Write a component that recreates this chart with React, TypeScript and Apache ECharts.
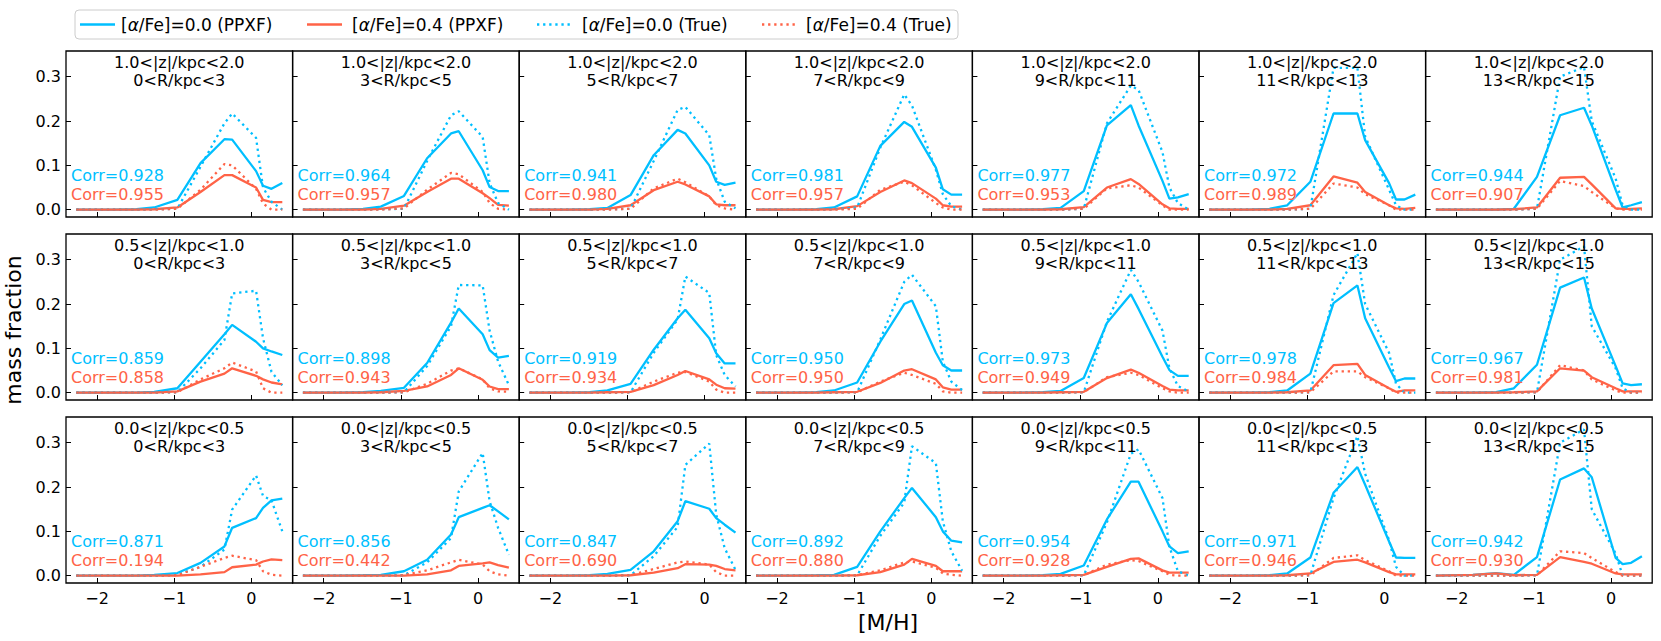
import React, { useEffect, useRef } from 'react';
import * as echarts from 'echarts';

// ---------- data ----------
const MH = [-2.27, -1.79, -1.49, -1.26, -0.96, -0.66, -0.35, -0.25, 0.06, 0.15, 0.26, 0.4];
const Z_BINS = ['1.0<|z|/kpc<2.0', '0.5<|z|/kpc<1.0', '0.0<|z|/kpc<0.5'];
const R_BINS = ['0<R/kpc<3', '3<R/kpc<5', '5<R/kpc<7', '7<R/kpc<9', '9<R/kpc<11', '11<R/kpc<13', '13<R/kpc<15'];
const X_TICKS = [-2, -1, 0];
const Y_TICKS = [0, 0.1, 0.2, 0.3];
const X_RANGE = [-2.4035, 0.5335];
const Y_RANGE = [-0.0165, 0.358];
const LEGEND = ['[α/Fe]=0.0 (PPXF)', '[α/Fe]=0.4 (PPXF)', '[α/Fe]=0.0 (True)', '[α/Fe]=0.4 (True)'];

// row 1: 1.0<|z|<2.0
const PPXF_A0_ROW1 = [
  [0, 0, 0.001, 0.005, 0.022, 0.105, 0.159, 0.158, 0.087, 0.054, 0.047, 0.06],
  [0, 0, 0.002, 0.007, 0.031, 0.116, 0.172, 0.177, 0.089, 0.051, 0.042, 0.042],
  [0, 0, 0.001, 0.004, 0.033, 0.123, 0.18, 0.172, 0.1, 0.063, 0.056, 0.061],
  [0, 0, 0.001, 0.005, 0.03, 0.144, 0.198, 0.187, 0.095, 0.046, 0.034, 0.034],
  [0, 0, 0.001, 0.004, 0.042, 0.19, 0.236, 0.19, 0.065, 0.025, 0.028, 0.035],
  [0, 0, 0.002, 0.01, 0.063, 0.217, 0.217, 0.157, 0.06, 0.023, 0.023, 0.034],
  [0, 0, 0, 0.002, 0.074, 0.213, 0.23, 0.19, 0.045, 0.005, 0.01, 0.017],
];
const TRUE_A0_ROW1 = [
  [0, 0, 0, 0.001, 0.002, 0.097, 0.195, 0.217, 0.162, 0.05, 0.018, 0],
  [0, 0, 0, 0.001, 0.002, 0.11, 0.213, 0.222, 0.164, 0.06, 0.015, 0],
  [0, 0, 0, 0.001, 0.002, 0.11, 0.225, 0.232, 0.168, 0.07, 0.018, 0.003],
  [0, 0, 0, 0.001, 0.005, 0.14, 0.26, 0.235, 0.09, 0.035, 0.008, 0],
  [0, 0, 0, 0, 0.002, 0.195, 0.28, 0.27, 0.13, 0.05, 0.015, 0],
  [0, 0, 0, 0, 0.002, 0.32, 0.32, 0.165, 0.045, 0.01, 0, 0],
  [0, 0, 0, 0, 0.002, 0.3, 0.322, 0.2, 0.07, 0.01, 0, 0],
];
const PPXF_A4_ROW1 = [
  [0, 0, 0, 0.001, 0.005, 0.04, 0.078, 0.078, 0.05, 0.022, 0.017, 0.017],
  [0, 0, 0, 0.002, 0.009, 0.04, 0.07, 0.07, 0.037, 0.026, 0.011, 0.009],
  [0, 0, 0, 0.002, 0.01, 0.044, 0.063, 0.057, 0.03, 0.012, 0.01, 0.01],
  [0, 0, 0, 0.001, 0.008, 0.04, 0.066, 0.06, 0.025, 0.01, 0.007, 0.007],
  [0, 0, 0, 0.001, 0.006, 0.05, 0.069, 0.058, 0.012, 0.003, 0.002, 0.002],
  [0, 0, 0, 0.002, 0.01, 0.075, 0.061, 0.04, 0.01, 0.003, 0.002, 0.004],
  [0, 0, 0, 0.001, 0.005, 0.072, 0.074, 0.057, 0.003, 0.002, 0.002, 0.003],
];
const TRUE_A4_ROW1 = [
  [0, 0, 0, 0, 0.002, 0.045, 0.103, 0.1, 0.047, 0.014, 0, 0],
  [0, 0, 0, 0, 0.003, 0.045, 0.083, 0.08, 0.04, 0.015, 0.002, 0],
  [0, 0, 0, 0, 0.002, 0.048, 0.07, 0.062, 0.03, 0.01, 0.003, 0],
  [0, 0, 0, 0, 0.002, 0.045, 0.063, 0.055, 0.015, 0.005, 0, 0],
  [0, 0, 0, 0, 0.002, 0.048, 0.055, 0.05, 0.01, 0, 0, 0],
  [0, 0, 0, 0, 0.002, 0.059, 0.05, 0.035, 0.01, 0, 0, 0],
  [0, 0, 0, 0, 0.002, 0.065, 0.053, 0.04, 0.003, 0, 0, 0],
];

// row 2: 0.5<|z|<1.0
const PPXF_A0_ROW2 = [
  [0, 0, 0, 0.002, 0.01, 0.07, 0.132, 0.153, 0.115, 0.1, 0.093, 0.085],
  [0, 0, 0.001, 0.004, 0.011, 0.067, 0.158, 0.19, 0.132, 0.096, 0.079, 0.083],
  [0, 0, 0.001, 0.005, 0.02, 0.097, 0.168, 0.187, 0.123, 0.089, 0.066, 0.066],
  [0, 0, 0.001, 0.005, 0.023, 0.115, 0.2, 0.208, 0.09, 0.062, 0.05, 0.05],
  [0, 0, 0.001, 0.004, 0.033, 0.157, 0.222, 0.189, 0.081, 0.051, 0.038, 0.038],
  [0, 0, 0.001, 0.005, 0.043, 0.202, 0.242, 0.168, 0.057, 0.026, 0.032, 0.032],
  [0, 0, 0.001, 0.01, 0.063, 0.237, 0.26, 0.19, 0.06, 0.021, 0.017, 0.019],
];
const TRUE_A0_ROW2 = [
  [0, 0, 0, 0, 0.001, 0.055, 0.119, 0.224, 0.23, 0.123, 0.047, 0.017],
  [0, 0, 0, 0, 0.001, 0.06, 0.15, 0.243, 0.242, 0.14, 0.07, 0.017],
  [0, 0, 0, 0, 0.001, 0.09, 0.165, 0.262, 0.225, 0.085, 0.04, 0.014],
  [0, 0, 0, 0, 0.001, 0.12, 0.25, 0.266, 0.195, 0.07, 0.025, 0.006],
  [0, 0, 0, 0, 0.001, 0.16, 0.277, 0.25, 0.14, 0.055, 0.015, 0.003],
  [0, 0, 0, 0, 0.001, 0.22, 0.315, 0.2, 0.09, 0.02, 0, 0],
  [0, 0, 0, 0, 0.001, 0.3, 0.33, 0.15, 0.055, 0.01, 0, 0],
];
const PPXF_A4_ROW2 = [
  [0, 0, 0, 0, 0.003, 0.025, 0.043, 0.055, 0.038, 0.03, 0.023, 0.019],
  [0, 0, 0, 0.001, 0.004, 0.014, 0.04, 0.055, 0.029, 0.014, 0.008, 0.008],
  [0, 0, 0, 0.001, 0.002, 0.017, 0.04, 0.049, 0.03, 0.018, 0.01, 0.009],
  [0, 0, 0, 0.001, 0.002, 0.022, 0.05, 0.053, 0.03, 0.012, 0.007, 0.007],
  [0, 0, 0, 0.001, 0.002, 0.033, 0.052, 0.045, 0.015, 0.007, 0.005, 0.005],
  [0, 0, 0, 0.001, 0.005, 0.062, 0.065, 0.04, 0.01, 0.002, 0.005, 0.005],
  [0, 0, 0, 0.001, 0.003, 0.055, 0.05, 0.035, 0.01, 0.003, 0.003, 0.003],
];
const TRUE_A4_ROW2 = [
  [0, 0, 0, 0, 0.001, 0.03, 0.055, 0.068, 0.048, 0.01, 0, 0],
  [0, 0, 0, 0, 0.001, 0.02, 0.05, 0.055, 0.03, 0.01, 0.003, 0.002],
  [0, 0, 0, 0, 0.001, 0.025, 0.045, 0.047, 0.025, 0.007, 0, 0],
  [0, 0, 0, 0, 0.001, 0.025, 0.045, 0.04, 0.02, 0.003, 0, 0],
  [0, 0, 0, 0, 0.001, 0.035, 0.045, 0.04, 0.01, 0.003, 0, 0],
  [0, 0, 0, 0, 0.001, 0.048, 0.048, 0.035, 0.01, 0, 0, 0],
  [0, 0, 0, 0, 0.001, 0.062, 0.05, 0.03, 0.005, 0, 0, 0],
];

// row 3: 0.0<|z|<0.5
const PPXF_A0_ROW3 = [
  [0, 0, 0, 0.002, 0.006, 0.029, 0.066, 0.108, 0.13, 0.153, 0.17, 0.174],
  [0, 0, 0.001, 0.002, 0.01, 0.036, 0.093, 0.132, 0.153, 0.159, 0.145, 0.127],
  [0, 0, 0.001, 0.004, 0.013, 0.055, 0.123, 0.168, 0.151, 0.13, 0.115, 0.097],
  [0, 0, 0.001, 0.002, 0.02, 0.1, 0.175, 0.198, 0.132, 0.1, 0.079, 0.075],
  [0, 0, 0.001, 0.004, 0.023, 0.127, 0.212, 0.212, 0.1, 0.066, 0.051, 0.055],
  [0, 0, 0.001, 0.005, 0.041, 0.187, 0.245, 0.205, 0.077, 0.041, 0.04, 0.04],
  [0, 0.002, 0.006, 0.002, 0.042, 0.217, 0.242, 0.222, 0.04, 0.026, 0.029, 0.044],
];
const TRUE_A0_ROW3 = [
  [0, 0, 0, 0, 0.002, 0.02, 0.059, 0.149, 0.226, 0.18, 0.17, 0.1],
  [0, 0, 0, 0, 0.001, 0.03, 0.085, 0.19, 0.277, 0.168, 0.108, 0.047],
  [0, 0, 0, 0, 0.001, 0.044, 0.11, 0.25, 0.298, 0.138, 0.062, 0.013],
  [0, 0, 0, 0, 0.001, 0.09, 0.165, 0.292, 0.254, 0.123, 0.055, 0.011],
  [0, 0, 0, 0, 0.001, 0.12, 0.275, 0.285, 0.175, 0.065, 0.01, 0],
  [0, 0, 0, 0, 0.001, 0.175, 0.315, 0.23, 0.08, 0.02, 0, 0],
  [0, 0, 0, 0, 0.001, 0.3, 0.33, 0.15, 0.05, 0, 0, 0],
];
const PPXF_A4_ROW3 = [
  [0, 0, 0, 0, 0, 0.003, 0.008, 0.019, 0.025, 0.032, 0.037, 0.035],
  [0, 0, 0, 0, 0, 0.003, 0.012, 0.022, 0.028, 0.03, 0.024, 0.018],
  [0, 0, 0, 0, 0.001, 0.007, 0.017, 0.026, 0.025, 0.022, 0.015, 0.012],
  [0, 0, 0, 0, 0.001, 0.008, 0.025, 0.038, 0.022, 0.01, 0.01, 0.01],
  [0, 0, 0, 0.001, 0.002, 0.02, 0.038, 0.039, 0.012, 0.007, 0.007, 0.007],
  [0, 0, 0, 0.001, 0.005, 0.031, 0.036, 0.03, 0.008, 0.003, 0.003, 0.003],
  [0, 0.002, 0.005, 0.001, 0.002, 0.042, 0.031, 0.027, 0.005, 0.003, 0.003, 0.003],
];
const TRUE_A4_ROW3 = [
  [0, 0, 0, 0, 0.001, 0.02, 0.04, 0.045, 0.035, 0.01, 0.002, 0],
  [0, 0, 0, 0, 0.001, 0.012, 0.03, 0.036, 0.025, 0.01, 0.003, 0],
  [0, 0, 0, 0, 0.001, 0.015, 0.03, 0.032, 0.025, 0.008, 0, 0],
  [0, 0, 0, 0, 0.001, 0.012, 0.03, 0.032, 0.018, 0.005, 0.002, 0],
  [0, 0, 0, 0, 0.001, 0.025, 0.035, 0.033, 0.01, 0.002, 0, 0],
  [0, 0, 0, 0, 0.001, 0.04, 0.046, 0.035, 0.01, 0, 0, 0],
  [0, 0, 0, 0, 0.001, 0.055, 0.051, 0.04, 0.008, 0, 0, 0],
];

const CORR_A0 = [
  ['0.928', '0.964', '0.941', '0.981', '0.977', '0.972', '0.944'],
  ['0.859', '0.898', '0.919', '0.950', '0.973', '0.978', '0.967'],
  ['0.871', '0.856', '0.847', '0.892', '0.954', '0.971', '0.942'],
];
const CORR_A4 = [
  ['0.955', '0.957', '0.980', '0.957', '0.953', '0.989', '0.907'],
  ['0.858', '0.943', '0.934', '0.950', '0.949', '0.984', '0.981'],
  ['0.194', '0.442', '0.690', '0.880', '0.928', '0.946', '0.930'],
];

const PPXF_A0 = [PPXF_A0_ROW1, PPXF_A0_ROW2, PPXF_A0_ROW3];
const TRUE_A0 = [TRUE_A0_ROW1, TRUE_A0_ROW2, TRUE_A0_ROW3];
const PPXF_A4 = [PPXF_A4_ROW1, PPXF_A4_ROW2, PPXF_A4_ROW3];
const TRUE_A4 = [TRUE_A4_ROW1, TRUE_A4_ROW2, TRUE_A4_ROW3];

// ---------- layout / style ----------
const FONT = "'DejaVu Sans', sans-serif";
const BLUE = '#00bfff';
const RED = '#ff6347';
const PANEL_LEFT = 66;
const PANEL_W = 226.6;
const PANEL_H = 166;
const ROW_TOPS = [51, 234, 417];
const LINE_W = 2.3;
const DOT = [2.3, 3.8];
const LEGEND_LINE_X = [80, 307, 537, 762];
const LEGEND_TEXT_X = [121, 352, 582, 806];

const fmtX = (v: number) => (v < 0 ? '\u2212' + Math.abs(v) : String(v));
const fmtY = (v: number) => v.toFixed(1);

function buildOption() {
  const grids: any[] = [];
  const xAxes: any[] = [];
  const yAxes: any[] = [];
  const series: any[] = [];
  const texts: any[] = [];
  const kinds = [
    { name: LEGEND[0], src: PPXF_A0, color: BLUE, dash: null as any },
    { name: LEGEND[1], src: PPXF_A4, color: RED, dash: null as any },
    { name: LEGEND[2], src: TRUE_A0, color: BLUE, dash: DOT },
    { name: LEGEND[3], src: TRUE_A4, color: RED, dash: DOT },
  ];

  for (let r = 0; r < 3; r++) {
    for (let c = 0; c < 7; c++) {
      const i = r * 7 + c;
      const left = PANEL_LEFT + c * PANEL_W;
      const top = ROW_TOPS[r];
      grids.push({
        left, top, width: PANEL_W, height: PANEL_H,
        show: true, borderColor: '#000', borderWidth: 1.3, backgroundColor: 'transparent',
      });
      xAxes.push({
        gridIndex: i, type: 'value', min: X_RANGE[0], max: X_RANGE[1], position: 'bottom',
        axisLine: { show: false, onZero: false }, splitLine: { show: false },
        axisTick: { show: true, inside: true, length: 5, customValues: X_TICKS, lineStyle: { color: '#000', width: 1 } },
        axisLabel: {
          show: r === 2, customValues: X_TICKS, formatter: fmtX, margin: 7,
          fontSize: 16, color: '#000', fontFamily: FONT,
        },
      });
      yAxes.push({
        gridIndex: i, type: 'value', min: Y_RANGE[0], max: Y_RANGE[1], position: 'left',
        axisLine: { show: false, onZero: false }, splitLine: { show: false },
        axisTick: { show: true, inside: true, length: 5, customValues: Y_TICKS, lineStyle: { color: '#000', width: 1 } },
        axisLabel: {
          show: c === 0, customValues: Y_TICKS, formatter: fmtY, margin: 5,
          fontSize: 16, color: '#000', fontFamily: FONT,
        },
      });
      kinds.forEach((s, k) => {
        const vals = s.src[r][c];
        series.push({
          type: 'line', name: s.name, xAxisIndex: i, yAxisIndex: i,
          data: MH.map((x, j) => [x, vals[j]]),
          symbol: 'none', showSymbol: false, silent: true, z: 2 + k,
          color: s.color, itemStyle: { color: s.color },
          lineStyle: { color: s.color, width: LINE_W, type: s.dash ? s.dash : 'solid', cap: 'butt' },
        });
      });
      const cx = left + PANEL_W / 2;
      const base = { fill: '#000', fontSize: 16, fontFamily: FONT, align: 'center', verticalAlign: 'middle', textAlign: 'center', textVerticalAlign: 'middle' };
      texts.push({ type: 'text', x: cx, y: top + 11, z: 100, silent: true, style: { ...base, text: Z_BINS[r] } });
      texts.push({ type: 'text', x: cx, y: top + 29, z: 100, silent: true, style: { ...base, text: R_BINS[c] } });
      const lbase = { fontSize: 16, fontFamily: FONT, align: 'left', verticalAlign: 'middle', textAlign: 'left', textVerticalAlign: 'middle' };
      texts.push({ type: 'text', x: left + 5, y: top + PANEL_H - 42, z: 100, silent: true, style: { ...lbase, fill: BLUE, text: 'Corr=' + CORR_A0[r][c] } });
      texts.push({ type: 'text', x: left + 5, y: top + PANEL_H - 22.5, z: 100, silent: true, style: { ...lbase, fill: RED, text: 'Corr=' + CORR_A4[r][c] } });
    }
  }

  // axis titles
  texts.push({
    type: 'text', x: 13, y: 330, rotation: Math.PI / 2, z: 100, silent: true,
    style: { text: 'mass fraction', fill: '#000', fontSize: 22, fontFamily: FONT, align: 'center', verticalAlign: 'middle', textAlign: 'center', textVerticalAlign: 'middle' },
  });
  texts.push({
    type: 'text', x: 888, y: 622, z: 100, silent: true,
    style: { text: '[M/H]', fill: '#000', fontSize: 22, fontFamily: FONT, align: 'center', verticalAlign: 'middle', textAlign: 'center', textVerticalAlign: 'middle' },
  });

  // legend (drawn to match the matplotlib legend box)
  texts.push({
    type: 'rect', z: 90, silent: true,
    shape: { x: 75, y: 10, width: 883, height: 29, r: 4 },
    style: { fill: '#fff', stroke: '#cccccc', lineWidth: 1 },
  });
  kinds.forEach((s, k) => {
    const x0 = LEGEND_LINE_X[k];
    texts.push({
      type: 'line', z: 95, silent: true,
      shape: { x1: x0, y1: 24.5, x2: x0 + 35, y2: 24.5 },
      style: { stroke: s.color, lineWidth: LINE_W, lineDash: s.dash || null, lineCap: 'butt' },
    });
    texts.push({
      type: 'text', z: 95, silent: true, x: LEGEND_TEXT_X[k], y: 24.5,
      style: {
        text: s.name.replace('α', '{i|α}'), fill: '#000', fontSize: 17, fontFamily: FONT,
        align: 'left', verticalAlign: 'middle', textAlign: 'left', textVerticalAlign: 'middle',
        rich: { i: { fontStyle: 'italic', fontSize: 17, fontFamily: FONT, fill: '#000' } },
      },
    });
  });

  return {
    animation: false,
    backgroundColor: '#fff',
    grid: grids,
    xAxis: xAxes,
    yAxis: yAxes,
    series,
    graphic: { elements: texts },
  };
}

export default function App() {
  const ref = useRef<HTMLDivElement>(null);
  useEffect(() => {
    if (!ref.current) return;
    const chart = echarts.init(ref.current, undefined, { renderer: 'svg' });
    chart.setOption(buildOption() as any);
    return () => chart.dispose();
  }, []);
  return (
    <div
      ref={ref}
      style={{ position: 'absolute', left: 0, top: 0, width: 1661, height: 641, background: '#fff' }}
    />
  );
}
